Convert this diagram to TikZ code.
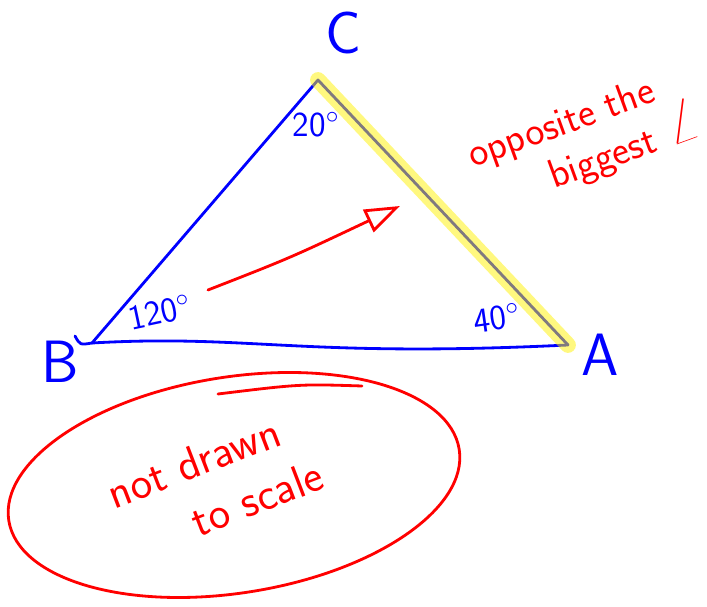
\documentclass[tikz,border=0pt]{standalone}
\usepackage{tikz}
\usepackage[dvipsnames]{xcolor}
\usetikzlibrary{arrows.meta}

\begin{document}
\begin{tikzpicture}[x=0.02cm, y=-0.02cm, line cap=round, line join=round,
    ink/.style={line width=1.6pt},
    vlabel/.style={blue, font=\sffamily\fontsize{34}{36}\selectfont},
    anglabel/.style={blue, font=\sffamily\fontsize{20}{22}\selectfont},
    note/.style={red, align=left, font=\sffamily\fontsize{23}{27}\selectfont}]
  \useasboundingbox (0,0) rectangle (707,607);

  \coordinate (B) at (92,343);
  \coordinate (C) at (318,80);
  \coordinate (A) at (568,345);
  \coordinate (Bhook) at (75,336);

  % triangle, long side highlighted
  \draw[ink,blue] (Bhook) .. controls (80,345) .. (B) -- (C) -- (A);
  \draw[ink,blue] (B) .. controls (250,334) and (300,358) .. (A);
  \draw[yellow, opacity=0.5, line width=9pt] (C) -- (A);

  \node[vlabel] (labC) at (343,33) {C};
  \node[vlabel] (labB) at (60,362) {B};
  \node[vlabel] (labA) at (600,355) {A};

  \node[anglabel] (angC) at (316,125) {20$^{\circ}$};
  \node[anglabel, rotate=12] (angB) at (160,312) {120$^{\circ}$};
  \node[anglabel, rotate=8] (angA) at (497,318) {40$^{\circ}$};

  % arrow towards the long side
  \coordinate (tail) at (208,290);
  \coordinate (head) at (400,206);
  \draw[ink,red,-{Triangle[open,length=20pt,width=14pt]}] (tail) .. controls (290,258) .. (head);

  \node[note, rotate=20] (opp) at (585,142)
    {opposite the\\\hspace{1.7em}biggest {\fontsize{34}{30}\selectfont$\angle$}};

  % not to scale
  \draw[ink,red] (234,485) ellipse [x radius=228, y radius=108, rotate=9];
  \draw[ink,red] (218,394) .. controls (300,384) .. (362,386);
  \node[note, font=\sffamily\fontsize{26}{32}\selectfont, rotate=21] (notd) at (215,484)
    {not drawn\\\hspace{1.5em}to scale};
\end{tikzpicture}
\end{document}
